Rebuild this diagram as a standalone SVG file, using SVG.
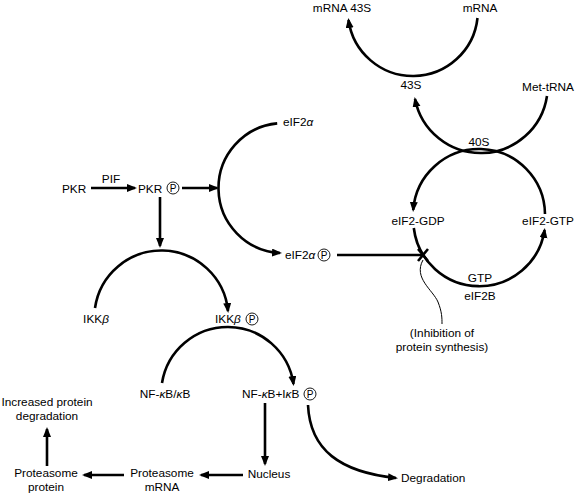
<svg xmlns="http://www.w3.org/2000/svg" width="578" height="494" viewBox="0 0 578 494">
<style>
text{font-family:"Liberation Sans",Arial,sans-serif;font-size:11.8px;fill:#000;}
.m{text-anchor:middle;}
.g{font-style:italic;}
.ln{fill:none;stroke:#000;stroke-width:2.6;}
.ar{marker-end:url(#ah);}
.thin{fill:none;stroke:#000;stroke-width:1;}
.pc{fill:#fff;stroke:#000;stroke-width:0.9;}
.pt{font-size:10px;text-anchor:middle;}
</style>
<defs>
<marker id="ah" markerUnits="userSpaceOnUse" markerWidth="12" markerHeight="9" refX="8" refY="4" orient="auto">
<path d="M0,0 L10,4 L0,8 z" fill="#000"/>
</marker>
</defs>
<rect width="578" height="494" fill="#fff"/>

<g id="connectors">
<!-- top arc mRNA -> mRNA 43S -->
<path class="ln ar" d="M477.5,18 A65,65 0 0 1 348.5,20"/>
<!-- Met-tRNA -> 43S -->
<path class="ln ar" d="M547,96 A67,67 0 0 1 415,99"/>
<!-- eIF2 cycle -->
<path class="ln ar" d="M545,214 A66,66 0 0 0 413.2,210"/>
<path class="ln ar" d="M413.8,228 A66,66 0 0 0 544.6,230"/>
<!-- PKR -> PKRP -->
<path class="ln ar" d="M91,188 L135,188"/>
<!-- PKRP -> eIF2 arc -->
<path class="ln ar" d="M182,188 L217,188"/>
<!-- eIF2a arc -->
<path class="ln ar" d="M277.2,123.4 A65,65 0 0 0 280,253"/>
<!-- inhibition line -->
<path class="ln" d="M337,255 L423,255"/>
<path class="ln" d="M418,249 L428,261 M428,249 L418,261"/>
<path class="thin" d="M423,260 C413,278 433,290 438,302 C442,312 442,318 442,324"/>
<!-- PKRP down -->
<path class="ln ar" d="M160,197 L160,246"/>
<!-- IKK arc -->
<path class="ln ar" d="M95,308 A67,67 0 0 1 228,311"/>
<!-- NF-kB arc -->
<path class="ln ar" d="M162,383 A66.5,66.5 0 0 1 293.5,384"/>
<!-- down to nucleus -->
<path class="ln ar" d="M265,403 L265,464"/>
<!-- degradation -->
<path class="ln ar" d="M308,405 C310,450 340,472 396,478"/>
<!-- nucleus -> proteasome mRNA -->
<path class="ln ar" d="M243,475 L201,475"/>
<!-- proteasome mRNA -> proteasome protein -->
<path class="ln ar" d="M124,475 L84,475"/>
<!-- up arrow -->
<path class="ln ar" d="M47,466 L47,429"/>
</g>

<g id="n-mrna43s"><text class="m" x="342" y="12">mRNA 43S</text></g>
<g id="n-mrna"><text class="m" x="480" y="12">mRNA</text></g>
<g id="n-43s"><text class="m" x="411" y="89">43S</text></g>
<g id="n-mettrna"><text class="m" x="548" y="91">Met-tRNA</text></g>
<g id="n-40s"><text class="m" x="479" y="146">40S</text></g>
<g id="n-eif2gdp"><text class="m" x="418" y="225">eIF2-GDP</text></g>
<g id="n-eif2gtp"><text class="m" x="548" y="225">eIF2-GTP</text></g>
<g id="n-gtp"><text class="m" x="480" y="282">GTP</text></g>
<g id="n-eif2b"><text class="m" x="480" y="300">eIF2B</text></g>
<g id="n-inhib"><text class="m" x="442" y="337">(Inhibition of</text><text class="m" x="442" y="351">protein synthesis)</text></g>

<g id="n-pkr"><text x="62" y="193">PKR</text></g>
<g id="n-pif"><text class="m" x="111" y="183">PIF</text></g>
<g id="n-pkrp"><text x="138" y="193">PKR</text><circle class="pc" cx="173" cy="188" r="6"/><text class="pt" x="173" y="191.6">P</text></g>
<g id="n-eif2a"><text x="283" y="126">eIF2<tspan class="g">α</tspan></text></g>
<g id="n-eif2ap"><text x="285" y="259">eIF2<tspan class="g">α</tspan></text><circle class="pc" cx="324" cy="255" r="6"/><text class="pt" x="324" y="258.6">P</text></g>

<g id="n-ikkb"><text class="m" x="96" y="323">IKK<tspan class="g">β</tspan></text></g>
<g id="n-ikkbp"><text x="215" y="323">IKK<tspan class="g">β</tspan></text><circle class="pc" cx="252" cy="319" r="6"/><text class="pt" x="252" y="322.6">P</text></g>

<g id="n-nfkb"><text class="m" x="165" y="398">NF-<tspan class="g">κ</tspan>B/<tspan class="g">κ</tspan>B</text></g>
<g id="n-nfkbikb"><text x="242" y="398">NF-<tspan class="g">κ</tspan>B+I<tspan class="g">κ</tspan>B</text><circle class="pc" cx="310" cy="394" r="6"/><text class="pt" x="310" y="397.6">P</text></g>

<g id="n-nucleus"><text class="m" x="269" y="478">Nucleus</text></g>
<g id="n-degradation"><text x="401" y="482">Degradation</text></g>
<g id="n-pmrna"><text class="m" x="162" y="477">Proteasome</text><text class="m" x="162" y="491">mRNA</text></g>
<g id="n-pprot"><text class="m" x="46" y="477">Proteasome</text><text class="m" x="46" y="491">protein</text></g>
<g id="n-incr"><text class="m" x="47" y="405.5">Increased protein</text><text class="m" x="47" y="419.5">degradation</text></g>
</svg>
